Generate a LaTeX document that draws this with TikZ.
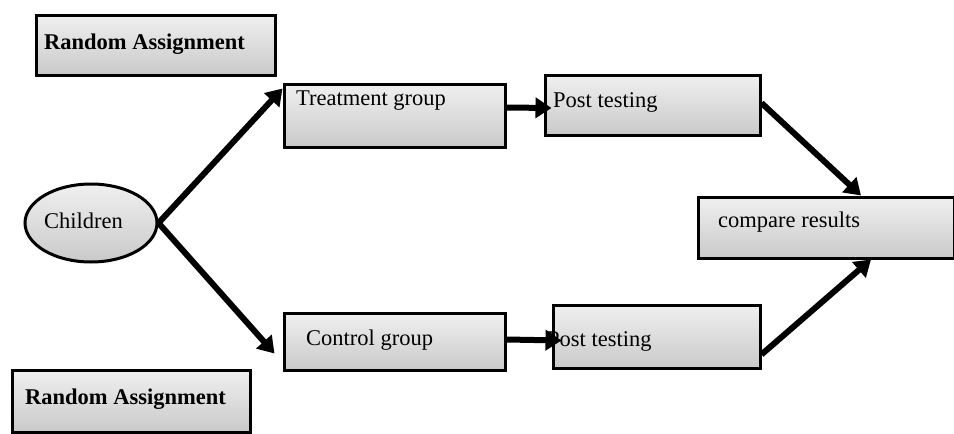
\documentclass[tikz,border=0pt]{standalone}
\usepackage{fontspec}
\setmainfont{Liberation Serif}
\usetikzlibrary{arrows.meta,calc,shapes.geometric}
\begin{document}
\begin{tikzpicture}[x=1pt,y=-1pt,
  box/.style={draw=black,line width=3pt,top color=gray!12,bottom color=gray!42,inner sep=0pt},
  lbl/.style={anchor=west,inner sep=0pt,font=\fontsize{22.5}{25}\selectfont},
  blbl/.style={lbl,font=\fontsize{22.5}{25}\selectfont\bfseries},
  arr/.style={line width=6pt,-{Triangle[length=16pt,width=20pt]}}]
\useasboundingbox (0,0) rectangle (954,434);
% boxes
\node[box,minimum width=239pt,minimum height=60pt] (ra1) at (155.5,45) {};
\node[box,minimum width=238pt,minimum height=62pt] (ra2) at (131,401) {};
\node[box,ellipse,minimum width=132pt,minimum height=78pt] (ch) at (91,223) {};
\node[box,minimum width=221pt,minimum height=63pt] (tg) at (394.5,115.5) {};
\node[box,minimum width=215pt,minimum height=60pt] (pt1) at (652.5,105) {};
\node[box,minimum width=221pt,minimum height=57pt] (cg) at (394.5,341.5) {};
\node[box,minimum width=207pt,minimum height=63pt] (pt2) at (656.5,336.5) {};
\node[box,minimum width=256pt,minimum height=61pt] (cr) at (826,227.5) {};
% labels
\node[blbl] (ra1t) at (44,44) {Random Assignment};
\node[blbl] (ra2t) at (25,399) {Random Assignment};
\node[lbl] (cht) at (44,221) {Children};
\node[lbl] (tgt) at (296,101) {Treatment group};
\node[lbl] (pt1t) at (553,102) {Post testing};
\node[lbl] (cgt) at (306,340) {Control group};
\node[lbl] (pt2t) at (547,341) {Post testing};
\node[lbl] (crt) at (718,222) {compare results};
% arrows
\draw[arr] (ch.east) -- ($(tg.north west)+(0,6)$);
\draw[arr] (ch.east) -- ($(cg.west)+(-8,12)$);
\draw[arr] ($(tg.east)+(0,-8)$) -- ($(pt1.west)+(8,3)$);
\draw[arr] ($(cg.east)+(0,-2)$) -- ($(pt2.west)+(10,4)$);
\draw[arr] ($(pt1.east)+(0,-2)$) -- ($(cr.north)+(35,0)$);
\draw[arr] ($(pt2.east)+(0,18)$) -- ($(cr.south)+(45,0)$);
\end{tikzpicture}
\end{document}
